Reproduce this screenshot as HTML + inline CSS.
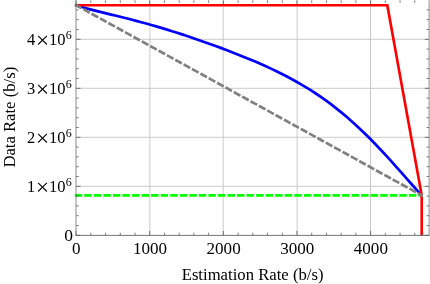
<!DOCTYPE html>
<html><head><meta charset="utf-8"><title>plot</title>
<style>html,body{margin:0;padding:0;background:#fff}svg{display:block;will-change:transform}text{font-family:"Liberation Serif",serif;fill:#000}</style></head>
<body>
<svg width="430" height="284" viewBox="0 0 430 284">
<rect width="430" height="284" fill="#fff"/>
<path d="M149.87,0.3 V235.3 M223.16,0.3 V235.3 M297.13,0.3 V235.3 M370.5,0.3 V235.3 M76.1,186.30 H429.2 M76.1,137.30 H429.2 M76.1,88.30 H429.2 M76.1,39.30 H429.2" stroke="#bcbcbc" stroke-width="0.8" fill="none"/>
<path d="M76.1,195.45 H421.7" stroke="#00ff00" stroke-width="2.7" fill="none" stroke-dasharray="4.773 4.773" stroke-linecap="square"/>
<path d="M76.10,5.20 L81.11,6.76 L86.12,8.21 L91.13,9.58 L96.13,10.88 L101.14,12.14 L106.15,13.37 L111.16,14.58 L116.17,15.80 L121.18,17.03 L126.19,18.27 L131.20,19.54 L136.20,20.84 L141.21,22.18 L146.22,23.54 L151.23,24.95 L156.24,26.39 L161.25,27.86 L166.26,29.38 L171.27,30.93 L176.27,32.51 L181.28,34.13 L186.29,35.78 L191.30,37.46 L196.31,39.17 L201.32,40.91 L206.33,42.67 L211.33,44.47 L216.34,46.29 L221.35,48.14 L226.36,50.02 L231.37,51.94 L236.38,53.89 L241.39,55.88 L246.40,57.91 L251.40,59.98 L256.41,62.11 L261.42,64.29 L266.43,66.54 L271.44,68.86 L276.45,71.25 L281.46,73.72 L286.47,76.28 L291.47,78.95 L296.48,81.71 L301.49,84.60 L306.50,87.60 L311.51,90.73 L316.52,94.00 L321.53,97.41 L326.53,100.97 L331.54,104.69 L336.55,108.57 L341.56,112.61 L346.57,116.81 L351.58,121.19 L356.59,125.73 L361.60,130.43 L366.60,135.30 L371.61,140.32 L376.62,145.48 L381.63,150.77 L386.64,156.19 L391.65,161.70 L396.66,167.29 L401.67,172.93 L406.67,178.60 L411.68,184.26 L416.69,189.88 L421.70,195.40" stroke="#0000ff" stroke-width="2.7" fill="none" stroke-linejoin="round"/>
<path d="M74.9,5.25 H387.3 L421.1,192 Q421.7,195.4 421.7,199 V235.3" stroke="#ff0000" stroke-width="2.65" fill="none" stroke-linejoin="miter" stroke-miterlimit="10"/>
<path d="M76.1,5.2 L421.7,195.4" stroke="#808080" stroke-width="2.7" fill="none" stroke-dasharray="4.773 4.773" stroke-linecap="square"/>
<path d="M76.10,235.3 v-4.4 M76.10,0.3 v4.4 M90.83,235.3 v-2.6 M90.83,0.3 v2.6 M105.55,235.3 v-2.6 M105.55,0.3 v2.6 M120.28,235.3 v-2.6 M120.28,0.3 v2.6 M135.00,235.3 v-2.6 M135.00,0.3 v2.6 M149.73,235.3 v-4.4 M149.73,0.3 v4.4 M164.46,235.3 v-2.6 M164.46,0.3 v2.6 M179.18,235.3 v-2.6 M179.18,0.3 v2.6 M193.91,235.3 v-2.6 M193.91,0.3 v2.6 M208.63,235.3 v-2.6 M208.63,0.3 v2.6 M223.36,235.3 v-4.4 M223.36,0.3 v4.4 M238.09,235.3 v-2.6 M238.09,0.3 v2.6 M252.81,235.3 v-2.6 M252.81,0.3 v2.6 M267.54,235.3 v-2.6 M267.54,0.3 v2.6 M282.26,235.3 v-2.6 M282.26,0.3 v2.6 M296.99,235.3 v-4.4 M296.99,0.3 v4.4 M311.72,235.3 v-2.6 M311.72,0.3 v2.6 M326.44,235.3 v-2.6 M326.44,0.3 v2.6 M341.17,235.3 v-2.6 M341.17,0.3 v2.6 M355.89,235.3 v-2.6 M355.89,0.3 v2.6 M370.62,235.3 v-4.4 M370.62,0.3 v4.4 M385.35,235.3 v-2.6 M385.35,0.3 v2.6 M400.07,235.3 v-2.6 M400.07,0.3 v2.6 M414.80,235.3 v-2.6 M414.80,0.3 v2.6 M76.1,235.30 h4.4 M429.2,235.30 h-4.4 M76.1,225.50 h2.6 M429.2,225.50 h-2.6 M76.1,215.70 h2.6 M429.2,215.70 h-2.6 M76.1,205.90 h2.6 M429.2,205.90 h-2.6 M76.1,196.10 h2.6 M429.2,196.10 h-2.6 M76.1,186.30 h4.4 M429.2,186.30 h-4.4 M76.1,176.50 h2.6 M429.2,176.50 h-2.6 M76.1,166.70 h2.6 M429.2,166.70 h-2.6 M76.1,156.90 h2.6 M429.2,156.90 h-2.6 M76.1,147.10 h2.6 M429.2,147.10 h-2.6 M76.1,137.30 h4.4 M429.2,137.30 h-4.4 M76.1,127.50 h2.6 M429.2,127.50 h-2.6 M76.1,117.70 h2.6 M429.2,117.70 h-2.6 M76.1,107.90 h2.6 M429.2,107.90 h-2.6 M76.1,98.10 h2.6 M429.2,98.10 h-2.6 M76.1,88.30 h4.4 M429.2,88.30 h-4.4 M76.1,78.50 h2.6 M429.2,78.50 h-2.6 M76.1,68.70 h2.6 M429.2,68.70 h-2.6 M76.1,58.90 h2.6 M429.2,58.90 h-2.6 M76.1,49.10 h2.6 M429.2,49.10 h-2.6 M76.1,39.30 h4.4 M429.2,39.30 h-4.4 M76.1,29.50 h2.6 M429.2,29.50 h-2.6 M76.1,19.70 h2.6 M429.2,19.70 h-2.6 M76.1,9.90 h2.6 M429.2,9.90 h-2.6" stroke="#383838" stroke-width="0.65" fill="none"/>
<path d="M76.0,0.3 V235.3 M429.1,235.3 V0.3" stroke="#707070" stroke-width="0.8" fill="none"/>
<path d="M75.6,235.4 H429.4" stroke="#505050" stroke-width="0.8" fill="none"/>
<text transform="translate(76.35,253.8) scale(1.035,1)" font-size="16.5" text-anchor="middle">0</text>
<text transform="translate(149.98,253.8) scale(1.035,1)" font-size="16.5" text-anchor="middle">1000</text>
<text transform="translate(223.61,253.8) scale(1.035,1)" font-size="16.5" text-anchor="middle">2000</text>
<text transform="translate(297.24,253.8) scale(1.035,1)" font-size="16.5" text-anchor="middle">3000</text>
<text transform="translate(370.87,253.8) scale(1.035,1)" font-size="16.5" text-anchor="middle">4000</text>
<text transform="translate(73.1,240.60) scale(1.06,1)" font-size="16.5" text-anchor="end">0</text>
<text x="27.1" y="191.60" font-size="16.5">1</text>
<path d="M38.1,182.90 L46.9,191.50 M46.9,182.90 L38.1,191.50" stroke="#000" stroke-width="1.05" fill="none"/>
<text x="49.1" y="191.60" font-size="16.5">10</text>
<text x="65.7" y="186.00" font-size="12">6</text>
<text x="27.1" y="142.60" font-size="16.5">2</text>
<path d="M38.1,133.90 L46.9,142.50 M46.9,133.90 L38.1,142.50" stroke="#000" stroke-width="1.05" fill="none"/>
<text x="49.1" y="142.60" font-size="16.5">10</text>
<text x="65.7" y="137.00" font-size="12">6</text>
<text x="27.1" y="93.60" font-size="16.5">3</text>
<path d="M38.1,84.90 L46.9,93.50 M46.9,84.90 L38.1,93.50" stroke="#000" stroke-width="1.05" fill="none"/>
<text x="49.1" y="93.60" font-size="16.5">10</text>
<text x="65.7" y="88.00" font-size="12">6</text>
<text x="27.1" y="44.60" font-size="16.5">4</text>
<path d="M38.1,35.90 L46.9,44.50 M46.9,35.90 L38.1,44.50" stroke="#000" stroke-width="1.05" fill="none"/>
<text x="49.1" y="44.60" font-size="16.5">10</text>
<text x="65.7" y="39.00" font-size="12">6</text>
<text x="252.6" y="280.2" font-size="16.5" text-anchor="middle" textLength="141.8" lengthAdjust="spacingAndGlyphs">Estimation Rate (b/s)</text>
<text transform="translate(15.05,117.2) rotate(-90)" font-size="16.5" text-anchor="middle" textLength="100.8" lengthAdjust="spacingAndGlyphs">Data Rate (b/s)</text>
</svg></body></html>
